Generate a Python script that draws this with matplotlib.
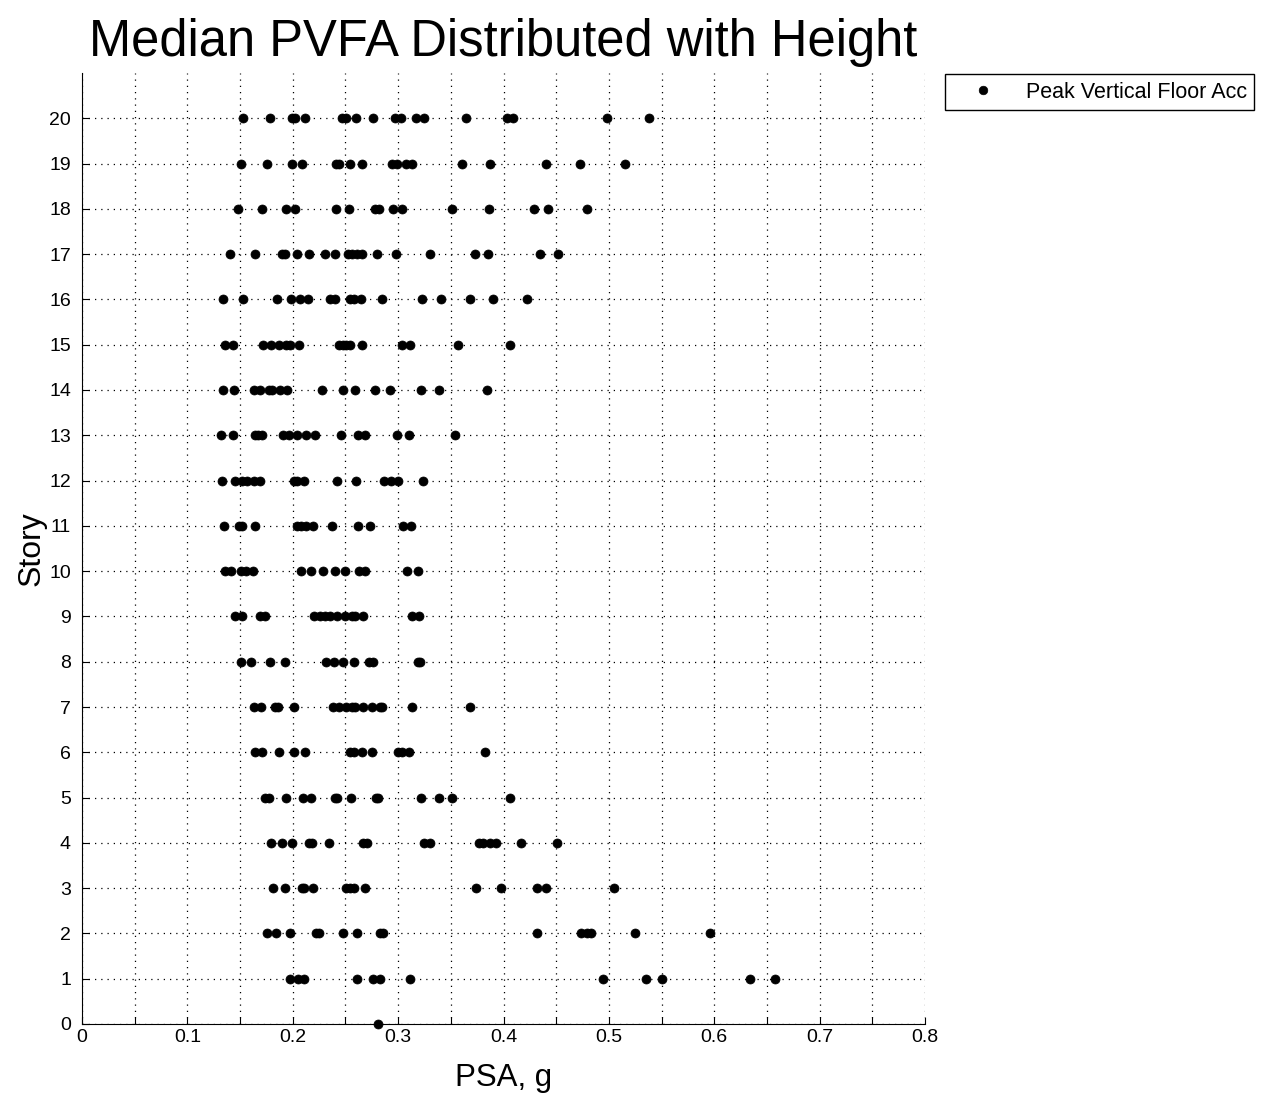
import numpy as np
import matplotlib.pyplot as plt
from matplotlib.ticker import MultipleLocator

plt.rcParams['font.family'] = ['Liberation Sans', 'DejaVu Sans']

# median PVFA (g) read per story, story 20 down to 0
s20 = [0.153, 0.178, 0.199, 0.202, 0.212, 0.247, 0.251, 0.260, 0.276, 0.297, 0.303, 0.317, 0.325, 0.364, 0.403, 0.409, 0.498, 0.538]
s19 = [0.151, 0.176, 0.199, 0.209, 0.241, 0.244, 0.254, 0.266, 0.294, 0.299, 0.307, 0.313, 0.361, 0.387, 0.440, 0.473, 0.515]
s18 = [0.148, 0.171, 0.194, 0.202, 0.241, 0.253, 0.278, 0.282, 0.295, 0.304, 0.351, 0.386, 0.429, 0.442, 0.479]
s17 = [0.140, 0.164, 0.190, 0.193, 0.204, 0.215, 0.231, 0.240, 0.252, 0.256, 0.261, 0.266, 0.280, 0.298, 0.330, 0.373, 0.385, 0.435, 0.452]
s16 = [0.134, 0.153, 0.185, 0.198, 0.207, 0.214, 0.235, 0.240, 0.254, 0.258, 0.265, 0.285, 0.323, 0.341, 0.368, 0.390, 0.422]
s15 = [0.136, 0.143, 0.172, 0.179, 0.187, 0.194, 0.197, 0.206, 0.244, 0.248, 0.251, 0.254, 0.266, 0.304, 0.311, 0.357, 0.406]
s14 = [0.134, 0.144, 0.163, 0.169, 0.177, 0.180, 0.188, 0.195, 0.228, 0.248, 0.259, 0.278, 0.292, 0.322, 0.339, 0.384]
s13 = [0.132, 0.143, 0.164, 0.167, 0.171, 0.191, 0.196, 0.204, 0.213, 0.221, 0.246, 0.262, 0.269, 0.299, 0.310, 0.354]
s12 = [0.133, 0.145, 0.152, 0.157, 0.163, 0.169, 0.201, 0.204, 0.211, 0.242, 0.260, 0.287, 0.293, 0.300, 0.324]
s11 = [0.135, 0.149, 0.152, 0.164, 0.204, 0.208, 0.213, 0.219, 0.237, 0.262, 0.273, 0.305, 0.312]
s10 = [0.136, 0.141, 0.151, 0.156, 0.162, 0.208, 0.217, 0.229, 0.240, 0.250, 0.263, 0.269, 0.308, 0.319]
s9 = [0.145, 0.152, 0.169, 0.174, 0.220, 0.226, 0.231, 0.235, 0.242, 0.250, 0.256, 0.259, 0.267, 0.313, 0.320]
s8 = [0.151, 0.160, 0.178, 0.193, 0.232, 0.239, 0.248, 0.258, 0.272, 0.276, 0.319, 0.321]
s7 = [0.163, 0.170, 0.183, 0.186, 0.201, 0.238, 0.244, 0.251, 0.256, 0.259, 0.267, 0.275, 0.283, 0.285, 0.313, 0.368]
s6 = [0.164, 0.171, 0.187, 0.201, 0.212, 0.254, 0.258, 0.266, 0.275, 0.300, 0.304, 0.310, 0.382]
s5 = [0.174, 0.177, 0.194, 0.210, 0.217, 0.240, 0.242, 0.255, 0.279, 0.281, 0.322, 0.339, 0.351, 0.406]
s4 = [0.179, 0.190, 0.199, 0.215, 0.218, 0.234, 0.267, 0.270, 0.325, 0.330, 0.377, 0.381, 0.387, 0.393, 0.417, 0.451]
s3 = [0.181, 0.193, 0.209, 0.211, 0.219, 0.251, 0.254, 0.258, 0.269, 0.374, 0.398, 0.432, 0.440, 0.505]
s2 = [0.176, 0.184, 0.197, 0.222, 0.225, 0.248, 0.261, 0.283, 0.286, 0.432, 0.474, 0.479, 0.483, 0.525, 0.596]
s1 = [0.197, 0.205, 0.211, 0.261, 0.276, 0.283, 0.311, 0.494, 0.535, 0.550, 0.634, 0.658]
s0 = [0.281]

stories = [s0, s1, s2, s3, s4, s5, s6, s7, s8, s9, s10,
           s11, s12, s13, s14, s15, s16, s17, s18, s19, s20]

psa = np.concatenate([np.array(v) for v in stories])
story = np.concatenate([np.full(len(v), i) for i, v in enumerate(stories)])

fig = plt.figure(figsize=(12.65, 10.94), dpi=100)
ax = fig.add_axes([82/1265, 70/1094, 843/1265, 951/1094])

ax.plot(psa, story, 'o', color='black', markersize=6.5, markeredgewidth=0.5,
        label='Peak Vertical Floor Acc', clip_on=False, zorder=3)

ax.set_xlim(0, 0.8)
ax.set_ylim(0, 21)
ax.xaxis.set_minor_locator(MultipleLocator(0.05))
ax.set_xticks(np.arange(0, 0.81, 0.1))
ax.set_xticklabels(['0', '0.1', '0.2', '0.3', '0.4', '0.5', '0.6', '0.7', '0.8'])
ax.set_yticks(range(0, 21))

ax.grid(True, which='both', linestyle=(0, (1, 4)), color='black', linewidth=0.9)
ax.tick_params(which='both', direction='in', labelsize=14, length=5, width=0.8)
ax.tick_params(axis='y', pad=8)
ax.spines['top'].set_visible(False)
ax.spines['right'].set_visible(False)

ax.set_xlabel('PSA, g', fontsize=22.5, labelpad=12)
ax.set_ylabel('Story', fontsize=23, labelpad=2)
ax.set_title('Median PVFA Distributed with Height', fontsize=36.5, pad=12)

fig.legend(loc='upper left', bbox_to_anchor=(945/1265, 1 - 74/1094), fontsize=15.5,
           frameon=True, fancybox=False, edgecolor='black', framealpha=1,
           borderaxespad=0, handlelength=2.8, handletextpad=0.6, borderpad=0.35,
           markerscale=0.95)

fig.savefig('out.png', dpi=100)
